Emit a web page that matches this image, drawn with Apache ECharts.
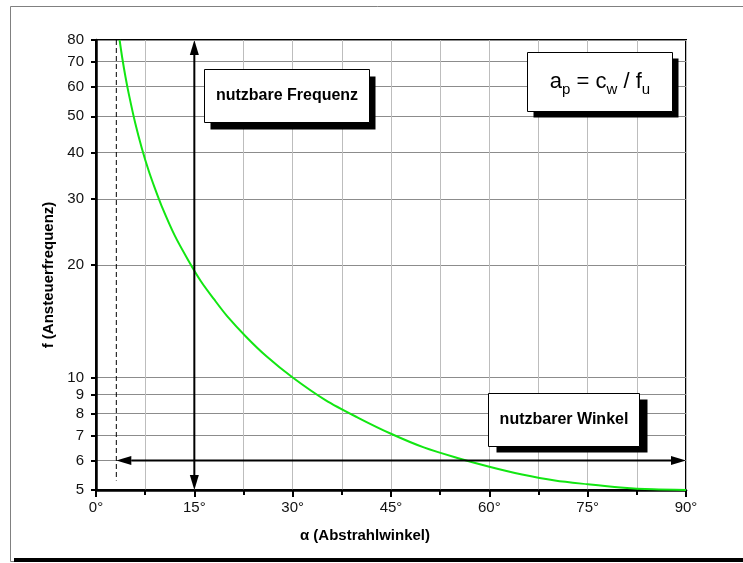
<!DOCTYPE html>
<html lang="de">
<head>
<meta charset="UTF-8">
<title>Nutzbare Frequenz</title>
<script src="https://cdn.jsdelivr.net/npm/echarts@6/dist/echarts.min.js"></script>
<style>
    html, body { margin: 0; padding: 0; background: #fff; }
    #box { width: 743px; height: 563px; }
</style>
</head>
<body>
<div id="box"></div>
<script>
var alpha = [3.6, 4, 4.5, 5, 6, 7, 8, 9, 10, 12, 14, 16, 18, 20, 23, 26, 30, 35, 40, 45, 50, 55, 60, 65, 70, 75, 80, 85, 90];
var freq  = [80, 71.7, 63.7, 57.4, 47.8, 41.0, 35.9, 32.0, 28.8, 24.0, 20.7, 18.1, 16.2, 14.6, 12.8, 11.4, 10.0, 8.7, 7.8, 7.07, 6.5, 6.1, 5.77, 5.5, 5.3, 5.18, 5.08, 5.02, 5.0];

var yTicks = [5, 6, 7, 8, 9, 10, 20, 30, 40, 50, 60, 70, 80];

// Pfeile: [x1, y1, x2, y2]
var freqArrow = [15, 80, 15, 5];
var angleArrow = [3.1, 6, 90, 6];
// gestrichelte Grenzlinie
var cutoffLine = [[3.1, 80], [3.1, 5.3]];

var boxFreq = 'nutzbare Frequenz';
var boxAngle = 'nutzbarer Winkel';

var FONT = '"Liberation Sans", Arial, sans-serif';

function renderArrow(params, api) {
    var a = api.coord([api.value(0), api.value(1)]);
    var b = api.coord([api.value(2), api.value(3)]);
    var dx = b[0] - a[0], dy = b[1] - a[1];
    var len = Math.sqrt(dx * dx + dy * dy);
    var ux = dx / len, uy = dy / len;
    var hl = 15, hw = 4.5;
    function head(tip, d) {
        var bx = tip[0] - d[0] * hl, by = tip[1] - d[1] * hl;
        return {
            type: 'polygon',
            shape: { points: [[tip[0], tip[1]], [bx - d[1] * hw, by + d[0] * hw], [bx + d[1] * hw, by - d[0] * hw]] },
            style: { fill: '#000' }
        };
    }
    return {
        type: 'group',
        children: [
            { type: 'line', shape: { x1: a[0] + ux * hl, y1: a[1] + uy * hl, x2: b[0] - ux * hl, y2: b[1] - uy * hl },
              style: { stroke: '#000', lineWidth: 2 } },
            head(a, [-ux, -uy]),
            head(b, [ux, uy])
        ]
    };
}

function textBox(x, y, w, h, dx, dy, text) {
    return {
        type: 'group',
        left: x, top: y,
        z: 100,
        children: [
            { type: 'rect', z: 100, shape: { x: dx, y: dy, width: w, height: h }, style: { fill: '#000' } },
            { type: 'rect', z: 101, shape: { x: 0, y: 0, width: w, height: h }, style: { fill: '#fff', stroke: '#000', lineWidth: 1 } },
            { type: 'text', z: 102, x: w / 2, y: h / 2, style: text }
        ]
    };
}

var mychart = echarts.init(document.getElementById('box'));

mychart.setOption({
    animation: false,
    backgroundColor: '#fff',
    grid: {
        left: 96, right: 57, top: 40, bottom: 73,
        show: true, borderColor: '#000', borderWidth: 2, backgroundColor: 'transparent'
    },
    xAxis: {
        type: 'value', min: 0, max: 90, interval: 15,
        axisLine: { show: true, onZero: false, lineStyle: { color: '#000', width: 2.5 } },
        axisTick: { show: true, length: 7, lineStyle: { color: '#000', width: 2 } },
        minorTick: { show: true, splitNumber: 2, length: 5, lineStyle: { color: '#000', width: 2 } },
        axisLabel: { margin: 10, color: '#111', fontSize: 15, fontFamily: FONT, formatter: '{value}°' },
        splitLine: { show: true, lineStyle: { color: '#bdbdbd', width: 1 } },
        minorSplitLine: { show: true, lineStyle: { color: '#bdbdbd', width: 1 } },
        name: 'α (Abstrahlwinkel)', nameLocation: 'middle', nameGap: 38,
        nameTextStyle: { color: '#000', fontSize: 15, fontWeight: 'bold', fontFamily: FONT, padding: [0, 52, 0, 0] }
    },
    yAxis: {
        type: 'log', logBase: 10, min: 5, max: 80,
        axisLine: { show: true, lineStyle: { color: '#000', width: 2.5 } },
        axisTick: { show: true, length: 5, customValues: yTicks, lineStyle: { color: '#000', width: 2 } },
        axisLabel: { customValues: yTicks, margin: 12, color: '#111', fontSize: 15, fontFamily: FONT },
        splitLine: { show: true, lineStyle: { color: '#8c8c8c', width: 1 } },
        name: 'f (Ansteuerfrequenz)', nameLocation: 'middle', nameGap: 38,
        nameTextStyle: { color: '#000', fontSize: 15, fontWeight: 'bold', fontFamily: FONT, padding: [0, 20, 0, 0] }
    },
    series: [
        {
            type: 'line',
            data: alpha.map(function (a, i) { return [a, freq[i]]; }),
            smooth: 0.3,
            symbol: 'none',
            lineStyle: { color: '#12e612', width: 2 },
            z: 5
        },
        {
            type: 'line',
            data: cutoffLine,
            symbol: 'none',
            lineStyle: { color: '#000', width: 1, type: [5, 3] },
            z: 4
        },
        {
            type: 'custom',
            renderItem: renderArrow,
            data: [freqArrow, angleArrow],
            encode: { x: [0, 2], y: [1, 3] },
            z: 6
        }
    ],
    graphic: [
        { type: 'rect', left: 8, top: 4, shape: { width: 745, height: 555 }, style: { fill: 'none', stroke: '#808080', lineWidth: 1 }, z: -10 },
        { type: 'rect', left: 14, top: 558, shape: { width: 735, height: 4 }, style: { fill: '#000' }, z: -9 },
        textBox(204, 69, 165, 53, 6, 7, {
            text: boxFreq, fill: '#000', font: 'bold 16px ' + FONT, align: 'center', verticalAlign: 'middle'
        }),
        textBox(527, 52, 145, 59, 6, 6, {
            text: '{m|a}{s|p}{m| = c}{s|w}{m| / f}{s|u}',
            align: 'center', verticalAlign: 'middle',
            rich: {
                m: { fontSize: 22, fontFamily: FONT, color: '#000', lineHeight: 30, verticalAlign: 'middle' },
                s: { fontSize: 15, fontFamily: FONT, color: '#000', lineHeight: 14, verticalAlign: 'bottom' }
            }
        }),
        textBox(488, 393, 151, 53, 8, 6, {
            text: boxAngle, fill: '#000', font: 'bold 16px ' + FONT, align: 'center', verticalAlign: 'middle'
        })
    ]
});
</script>
</body>
</html>
